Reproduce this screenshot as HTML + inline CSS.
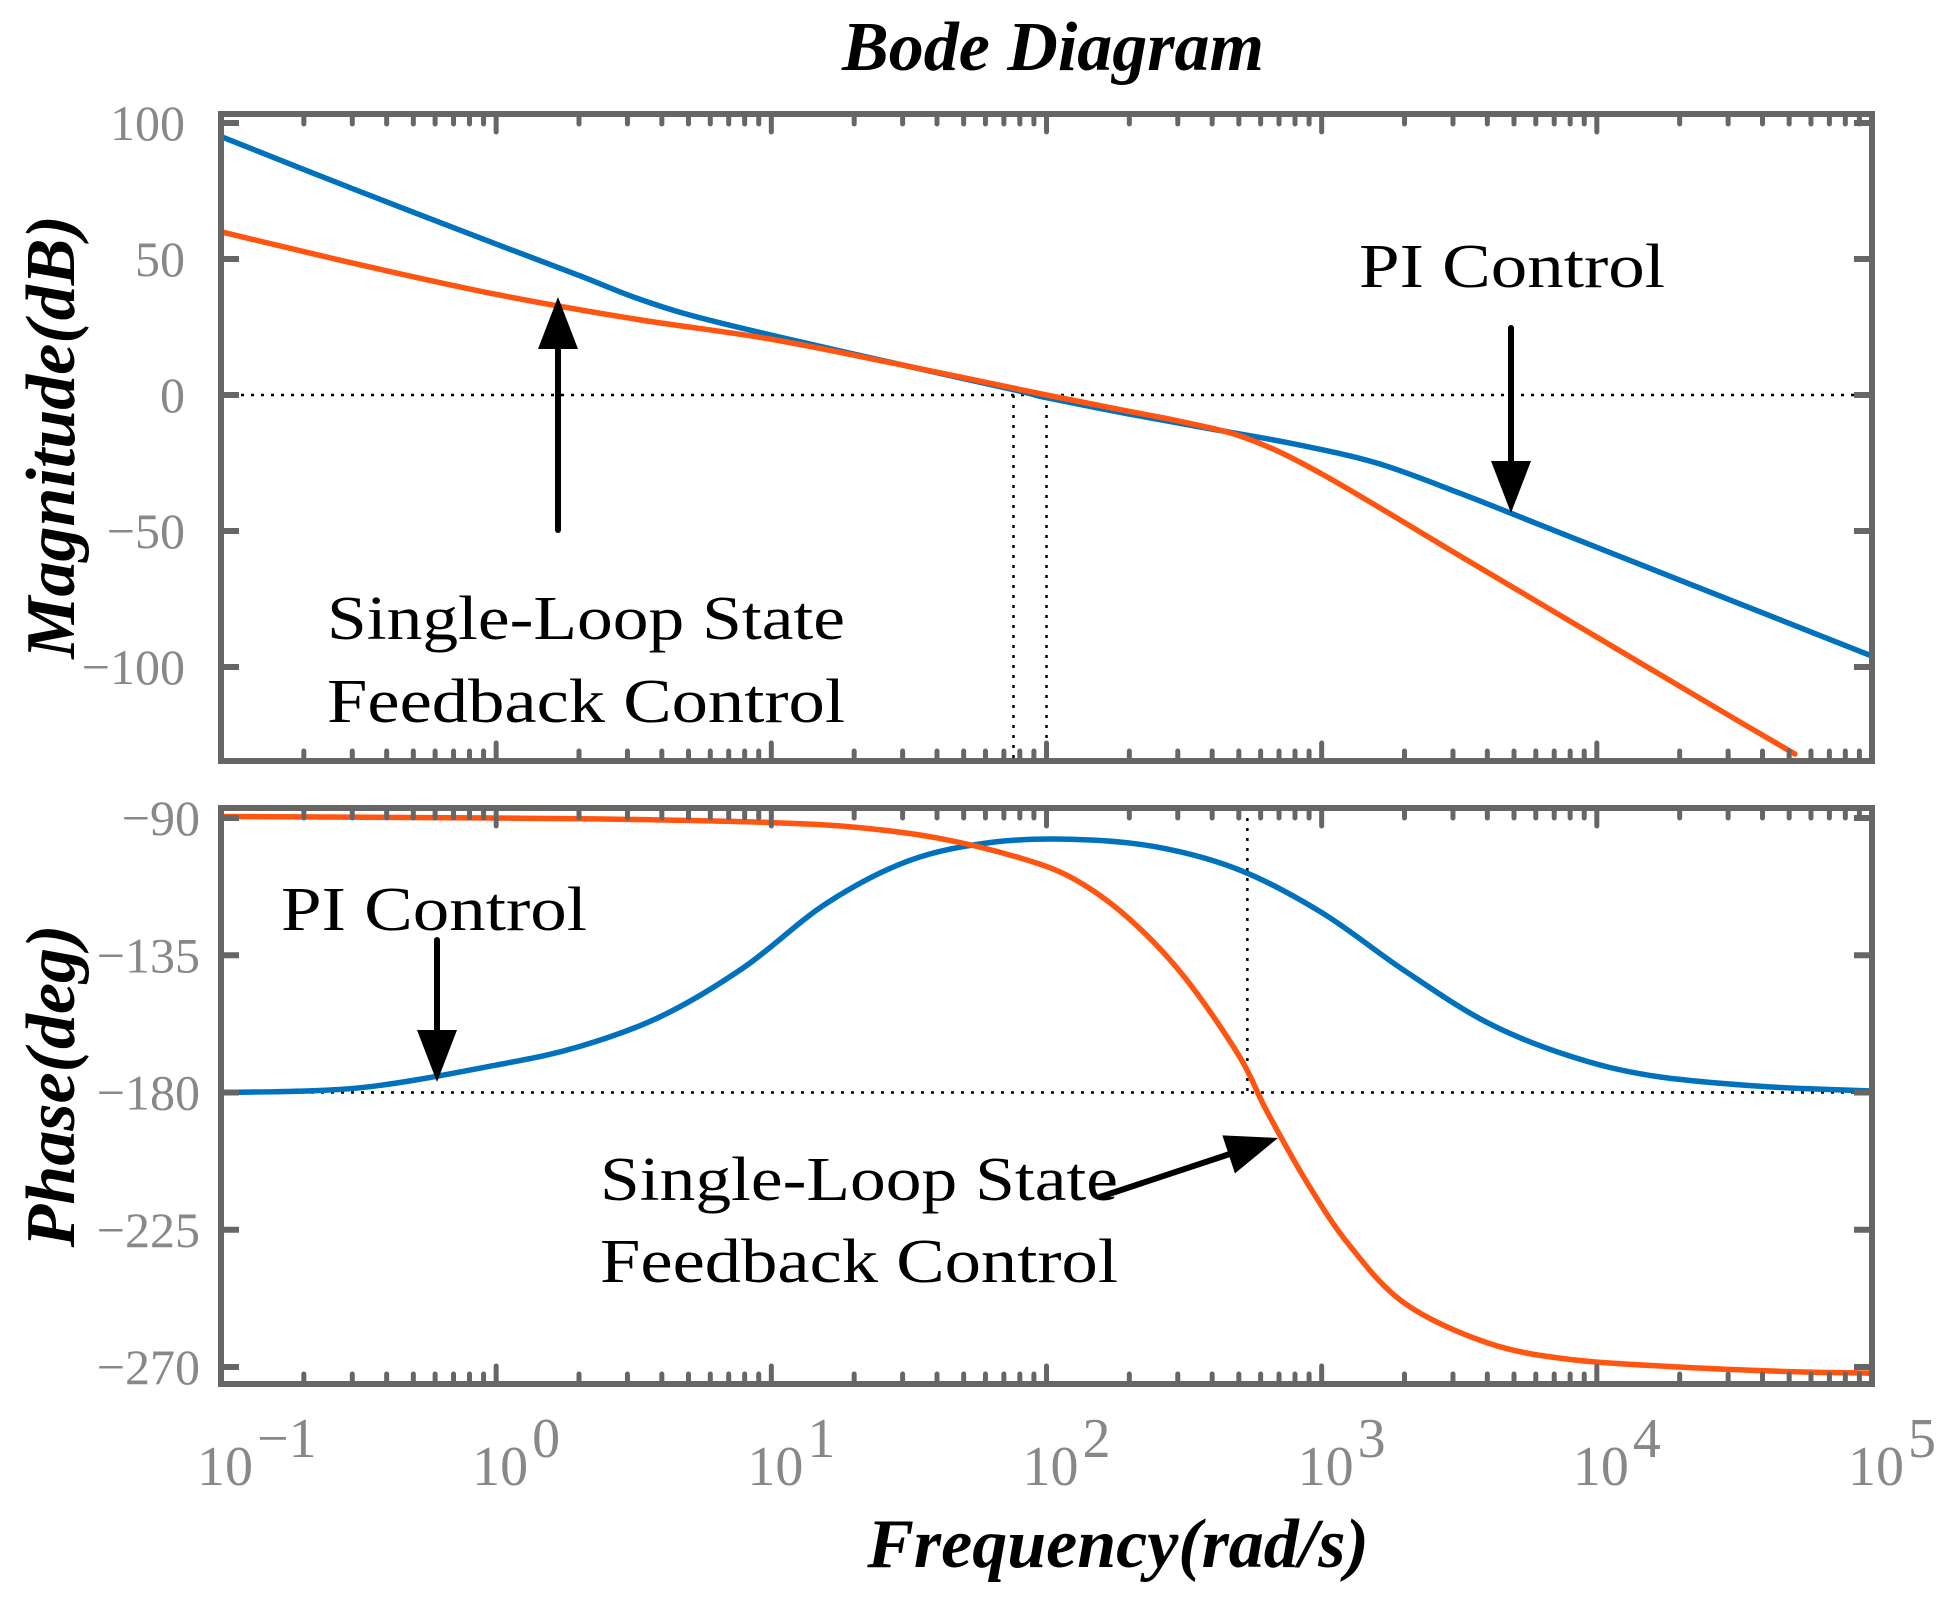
<!DOCTYPE html>
<html><head><meta charset="utf-8"><style>
html,body{margin:0;padding:0;background:#fff;}
svg{display:block;font-family:"Liberation Serif",serif;}
</style></head><body>
<svg id="chart" width="1948" height="1598" viewBox="0 0 1948 1598" xmlns="http://www.w3.org/2000/svg">
<g id="marks"></g>
</svg>
<script>
// data (log10 frequency -> values)
const magBlueF = [-1, -0.5, 0, 0.3, 0.5, 0.7, 1, 1.5, 1.9, 2, 2.3, 2.6, 2.9, 3.2, 3.5, 3.8, 4.2, 4.6, 5];
const magBlueV = [95, 75, 55.5, 44, 36, 29.5, 22, 10.5, 1.5, -1, -7, -12.5, -18, -25, -36, -48, -64, -80, -96];
const magOrangeF = [-1, -0.5, 0, 0.5, 1, 1.5, 2, 2.3, 2.5, 2.73, 3, 3.5, 3.8, 4.2, 4.5, 4.72];
const magOrangeV = [60, 48, 37, 28, 20.5, 10.5, 0, -6, -10, -16, -29, -59, -77, -101, -119, -132];
const phBlueF = [-1, -0.5, 0, 0.3, 0.6, 0.9, 1.2, 1.5, 1.8, 2.1, 2.4, 2.7, 3, 3.3, 3.6, 3.9, 4.2, 4.6, 5];
const phBlueV = [-180, -178.5, -171, -165, -155, -139, -118, -104, -98, -97, -99.5, -107, -121, -140, -157, -168, -174.5, -178, -179.5];
const phOrangeF = [-1, 0, 0.5, 1, 1.3, 1.6, 1.9, 2.1, 2.3, 2.5, 2.7, 2.8, 2.95, 3.1, 3.3, 3.6, 3.9, 4.3, 4.7, 5];
const phOrangeV = [-89.5, -90, -90.5, -91.5, -93, -96.5, -103, -110, -123, -142, -168, -186, -210, -230, -249, -262, -267.5, -270, -271.5, -272];
const magTicks = [100, 50, 0, -50, -100];
const phTicks = [-90, -135, -180, -225, -270];
const decades = [-1, 0, 1, 2, 3, 4, 5];
const vlinesMag = [1.88, 2.0];
const vlinePh = [2.73];

const NS = "http://www.w3.org/2000/svg";
const L = 221, R = 1872, T1 = 114, B1 = 761, T2 = 808, B2 = 1384;
const xs = f => L + (f + 1) * (R - L) / 6;
const ym = d => 395 - d * 2.72;
const yp = p => 818 + (-90 - p) * 3.05;
const g = document.getElementById('marks');
function mk(tag, attrs, parent) {
  const e = document.createElementNS(NS, tag);
  for (const k in attrs) e.setAttribute(k, attrs[k]);
  (parent || g).appendChild(e);
  return e;
}
function smooth(pts) {
  let d = `M${pts[0][0]},${pts[0][1]}`;
  for (let i = 0; i < pts.length - 1; i++) {
    const p0 = pts[i - 1] || pts[i], p1 = pts[i], p2 = pts[i + 1], p3 = pts[i + 2] || p2;
    const c1 = [p1[0] + (p2[0] - p0[0]) / 6, p1[1] + (p2[1] - p0[1]) / 6];
    const c2 = [p2[0] - (p3[0] - p1[0]) / 6, p2[1] - (p3[1] - p1[1]) / 6];
    d += ` C${c1[0]},${c1[1]} ${c2[0]},${c2[1]} ${p2[0]},${p2[1]}`;
  }
  return d;
}
const defs = mk('defs', {});
const c1 = mk('clipPath', {id: 'clipMag'}, defs); mk('rect', {x: L, y: T1, width: R - L, height: B1 - T1}, c1);
const c2 = mk('clipPath', {id: 'clipPh'}, defs); mk('rect', {x: L - 10, y: T2, width: R - L + 10, height: B2 - T2}, c2);

const dot = {stroke: '#000', 'stroke-width': 2.5, 'stroke-dasharray': '3,7'};
let e;
e = mk('line', Object.assign({x1: L, x2: R, y1: ym(0), y2: ym(0)}, dot));
 
vlinesMag.forEach(f => {
  e = mk('line', Object.assign({x1: xs(f), x2: xs(f), y1: ym(0), y2: B1}, dot));
   
});
e = mk('line', Object.assign({x1: L, x2: R, y1: yp(-180), y2: yp(-180)}, dot));
 
vlinePh.forEach(f => {
  e = mk('line', Object.assign({x1: xs(f), x2: xs(f), y1: T2, y2: yp(-180)}, dot));
   
});

function series(F, V, yf, color, clip, name) {
  const pts = F.map((f, i) => [xs(f), yf(V[i])]);
  const p = mk('path', {d: smooth(pts), fill: 'none', stroke: color, 'stroke-width': 5.5, 'clip-path': `url(#${clip})`, 'stroke-linecap': 'round'});
  
  
}
series(magBlueF, magBlueV, ym, '#0072BD', 'clipMag', 'pi-magnitude-line');
series(magOrangeF, magOrangeV, ym, '#FF5511', 'clipMag', 'state-feedback-magnitude-line');
series(phBlueF, phBlueV, yp, '#0072BD', 'clipPh', 'pi-phase-line');
series(phOrangeF, phOrangeV, yp, '#FF5511', 'clipPh', 'state-feedback-phase-line');

const ax = {stroke: '#666', 'stroke-width': 6, fill: 'none'};
[[T1, B1, 'magnitude-axes-frame'], [T2, B2, 'phase-axes-frame']].forEach(([t, b, n]) => {
  e = mk('rect', Object.assign({x: L, y: t, width: R - L, height: b - t}, ax));
   
  let d = '';
  for (let k = -1; k < 5; k++) {
    for (let m = 2; m <= 9; m++) {
      const x = xs(k + Math.log10(m));
      d += `M${x},${t} v10 M${x},${b} v-10 `;
    }
    if (k > -1) d += `M${xs(k)},${t} v18 M${xs(k)},${b} v-18 `;
  }
  mk('path', {d, stroke: '#666', 'stroke-width': 5, 'stroke-linecap': 'round'});
});
let yd = '';
magTicks.forEach(v => { yd += `M${L},${ym(v)} h18 M${R},${ym(v)} h-18 `; });
phTicks.forEach(v => { yd += `M${L},${yp(v)} h18 M${R},${yp(v)} h-18 `; });
mk('path', {d: yd, stroke: '#666', 'stroke-width': 6});

function txt(x, y, s, attrs, name) {
  const t = mk('text', Object.assign({x, y}, attrs));
  t.textContent = s;
  
  
  return t;
}
const lab = {fill: '#888', 'font-size': 50, 'text-anchor': 'end'};
magTicks.forEach(v => txt(185, ym(v) + 17, v < 0 ? '\u2212' + (-v) : String(v), lab, 'magnitude-tick-label'));
phTicks.forEach(v => txt(200, yp(v) + 17, '\u2212' + (-v), lab, 'phase-tick-label'));
decades.forEach(k => {
  const x = xs(k);
  txt(x - 24, 1485, '10', {fill: '#888', 'font-size': 56}, 'x-tick-label');
  txt(x + 36, 1457, k < 0 ? '\u2212' + (-k) : String(k), {fill: '#888', 'font-size': 56}, 'x-tick-exponent');
});

const bi = {'font-weight': 'bold', 'font-style': 'italic', fill: '#000', 'text-anchor': 'middle'};
txt(1053, 70, 'Bode Diagram', Object.assign({'font-size': 70}, bi), 'chart-title');
txt(1118, 1567, 'Frequency(rad/s)', Object.assign({'font-size': 70}, bi), 'x-axis-title');
txt(0, 0, 'Magnitude(dB)', Object.assign({'font-size': 70, transform: 'translate(74,437) rotate(-90)'}, bi), 'y-axis-title-magnitude');
txt(0, 0, 'Phase(deg)', Object.assign({'font-size': 70, transform: 'translate(74,1086) rotate(-90)'}, bi), 'y-axis-title-phase');

const an = {'font-size': 62, fill: '#000'};
txt(1359, 287, 'PI Control', Object.assign({textLength: 306, lengthAdjust: 'spacingAndGlyphs'}, an), 'pi-label-magnitude');
txt(327, 639, 'Single-Loop State', Object.assign({textLength: 518, lengthAdjust: 'spacingAndGlyphs'}, an), 'state-feedback-label-magnitude-1');
txt(327, 722, 'Feedback Control', Object.assign({textLength: 518, lengthAdjust: 'spacingAndGlyphs'}, an), 'state-feedback-label-magnitude-2');
txt(281, 930, 'PI Control', Object.assign({textLength: 306, lengthAdjust: 'spacingAndGlyphs'}, an), 'pi-label-phase');
txt(600, 1200, 'Single-Loop State', Object.assign({textLength: 518, lengthAdjust: 'spacingAndGlyphs'}, an), 'state-feedback-label-phase-1');
txt(600, 1282, 'Feedback Control', Object.assign({textLength: 518, lengthAdjust: 'spacingAndGlyphs'}, an), 'state-feedback-label-phase-2');

function arrow(x1, y1, x2, y2, name) {
  const a = Math.atan2(y2 - y1, x2 - x1), hl = 52, hw = 20;
  const bx = x2 - hl * Math.cos(a), by = y2 - hl * Math.sin(a);
  const grp = mk('g', {});
  
  
  mk('line', {x1, y1, x2: bx, y2: by, stroke: '#000', 'stroke-width': 6, 'stroke-linecap': 'round'}, grp);
  const px = -Math.sin(a) * hw, py = Math.cos(a) * hw;
  mk('polygon', {points: `${x2},${y2} ${bx + px},${by + py} ${bx - px},${by - py}`, fill: '#000'}, grp);
}
arrow(558, 530, 558, 297, 'state-feedback-arrow-magnitude');
arrow(1511, 328, 1511, 513, 'pi-arrow-magnitude');
arrow(437, 940, 437, 1082, 'pi-arrow-phase');
arrow(1100, 1197, 1278, 1138, 'state-feedback-arrow-phase');
</script>
</body></html>
